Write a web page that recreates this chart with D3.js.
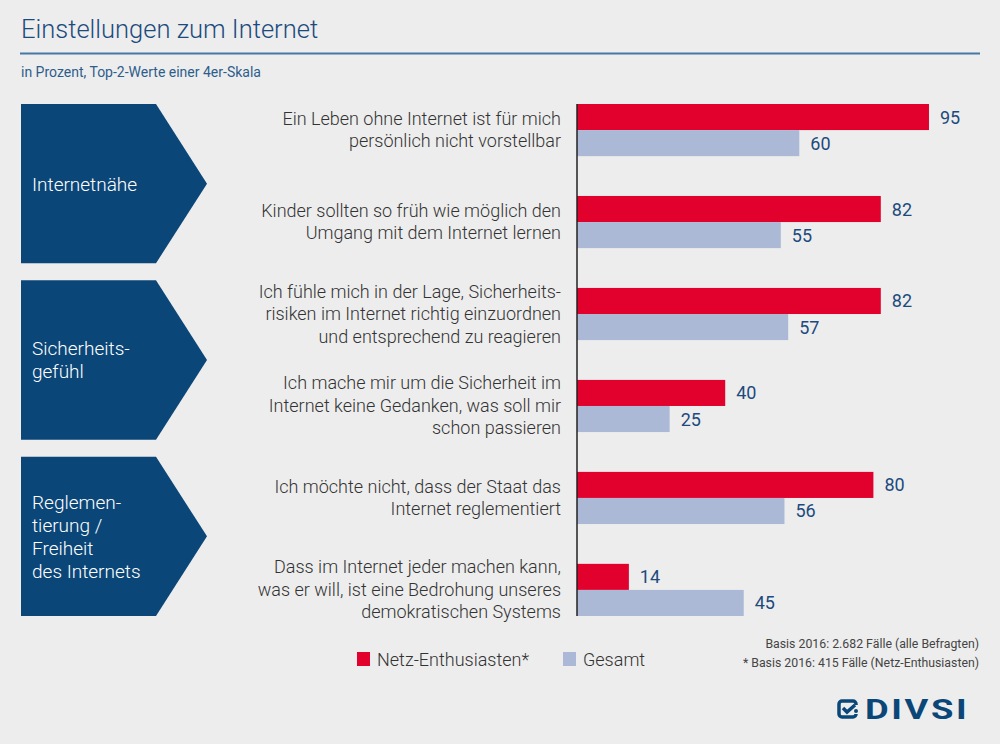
<!DOCTYPE html>
<html lang="de">
    <head>
        <meta charset="utf-8" />
        <title>Einstellungen zum Internet</title>
        <script src="https://cdn.jsdelivr.net/npm/d3@7"></script>
        <style>
            body {
                margin: 0;
                background-color: #ededed;
                font-family: Roboto, "Open Sans", sans-serif;
            }
        </style>
    </head>
    <body>
        <div id="chart"></div>

        <script>
            // data
            var groups = [
                ["Internetnähe"],
                ["Sicherheits-", "gefühl"],
                ["Reglemen-", "tierung /", "Freiheit", "des Internets"],
            ];
            var statements = [
                ["Ein Leben ohne Internet ist für mich", "persönlich nicht vorstellbar"],
                ["Kinder sollten so früh wie möglich den", "Umgang mit dem Internet lernen"],
                ["Ich fühle mich in der Lage, Sicherheits-", "risiken im Internet richtig einzuordnen", "und entsprechend zu reagieren"],
                ["Ich mache mir um die Sicherheit im", "Internet keine Gedanken, was soll mir", "schon passieren"],
                ["Ich möchte nicht, dass der Staat das", "Internet reglementiert"],
                ["Dass im Internet jeder machen kann,", "was er will, ist eine Bedrohung unseres", "demokratischen Systems"],
            ];
            var series = ["Netz-Enthusiasten*", "Gesamt"];
            var netz = [95, 82, 82, 40, 80, 14];
            var gesamt = [60, 55, 57, 25, 56, 45];
            var notes = [
                "Basis 2016: 2.682 Fälle (alle Befragten)",
                "* Basis 2016: 415 Fälle (Netz-Enthusiasten)",
            ];

            var width = 1000,
                height = 744;
            var navy = "#0b4678",
                red = "#e2002d",
                lightBlue = "#abb9d6";

            var svg = d3
                .select("#chart")
                .append("svg")
                .attr("width", width)
                .attr("height", height);

            // title
            svg.append("text")
                .attr("x", 21)
                .attr("y", 38)
                .attr("fill", "#1b4b7e")
                .attr("font-size", 25.5)
                .attr("font-weight", 300)
                .text("Einstellungen zum Internet");
            svg.append("line")
                .attr("x1", 20)
                .attr("x2", 980)
                .attr("y1", 53.5)
                .attr("y2", 53.5)
                .attr("stroke", "#4677a6")
                .attr("stroke-width", 2);
            svg.append("text")
                .attr("x", 21)
                .attr("y", 77)
                .attr("fill", "#2e5d8c")
                .attr("font-size", 14)
                .text("in Prozent, Top-2-Werte einer 4er-Skala");

            var rows = netz.map(function (d, i) {
                return { i: i, lines: statements[i], values: [d, gesamt[i]] };
            });

            var x = d3.scaleLinear().domain([0, 100]).range([577, 947.5]);
            var y = d3
                .scaleBand()
                .domain(d3.range(rows.length))
                .range([104, 616])
                .paddingInner(0.433);
            var ySub = d3
                .scaleBand()
                .domain([0, 1])
                .range([0, y.bandwidth()]);
            var yGroup = d3
                .scaleBand()
                .domain(d3.range(groups.length))
                .range([104, 616])
                .paddingInner(0.097);
            var color = d3.scaleOrdinal().domain([0, 1]).range([red, lightBlue]);

            // chevrons
            var chev = svg
                .selectAll(".chev")
                .data(groups)
                .enter()
                .append("g")
                .attr("class", "chev")
                .attr("transform", (d, i) => "translate(21," + yGroup(i) + ")");

            chev.append("path").attr("fill", navy).attr("d", function () {
                var h = yGroup.bandwidth();
                return "M0,0H135L186," + h / 2 + "L135," + h + "H0Z";
            });

            chev.append("text")
                .attr("fill", "#fff")
                .attr("font-size", 19)
                .attr("font-weight", 300)
                .selectAll("tspan")
                .data((d) => d)
                .enter()
                .append("tspan")
                .attr("x", 11)
                .attr("y", function (d, j, nodes) {
                    var n = nodes.length;
                    return yGroup.bandwidth() / 2 + (j - (n - 1) / 2) * 23 + 7;
                })
                .text((d) => d);

            // statement labels
            var row = svg
                .selectAll(".row")
                .data(rows)
                .enter()
                .append("g")
                .attr("class", "row")
                .attr("transform", (d) => "translate(0," + y(d.i) + ")");

            row.append("text")
                .attr("fill", "#333")
                .attr("font-size", 18)
                .attr("font-weight", 300)
                .attr("text-anchor", "end")
                .selectAll("tspan")
                .data((d) => d.lines)
                .enter()
                .append("tspan")
                .attr("x", 561)
                .attr("y", function (d, j, nodes) {
                    var n = nodes.length;
                    return y.bandwidth() / 2 + (j - (n - 1) / 2) * 22.5 + 6;
                })
                .text((d) => d);

            // bars
            var bar = row
                .selectAll(".bar")
                .data((d) => d.values)
                .enter()
                .append("g")
                .attr("class", "bar");

            bar.append("rect")
                .attr("x", x(0))
                .attr("y", (d, j) => ySub(j))
                .attr("width", (d) => x(d) - x(0))
                .attr("height", ySub.bandwidth())
                .attr("fill", (d, j) => color(j));

            bar.append("text")
                .attr("x", (d) => x(d) + 11)
                .attr("y", (d, j) => ySub(j) + ySub.bandwidth() / 2 + 6.5)
                .attr("fill", "#1c4a7d")
                .attr("font-size", 18)
                .text((d) => d);

            // axis line
            svg.append("line")
                .attr("x1", x(0))
                .attr("x2", x(0))
                .attr("y1", y.range()[0])
                .attr("y2", y.range()[1])
                .attr("stroke", "#222")
                .attr("stroke-width", 1.5);

            // legend
            var legendX = [357, 563];
            var legend = svg
                .selectAll(".legend")
                .data(series)
                .enter()
                .append("g")
                .attr("class", "legend")
                .attr("transform", (d, i) => "translate(" + legendX[i] + ",652)");
            legend.append("rect")
                .attr("width", 13)
                .attr("height", 14)
                .attr("fill", (d, i) => color(i));
            legend.append("text")
                .attr("x", 20)
                .attr("y", 13.5)
                .attr("fill", "#333")
                .attr("font-size", 18)
                .attr("font-weight", 300)
                .text((d) => d);

            // notes
            svg.selectAll(".note")
                .data(notes)
                .enter()
                .append("text")
                .attr("class", "note")
                .attr("x", 979)
                .attr("y", (d, i) => 648 + i * 19)
                .attr("text-anchor", "end")
                .attr("fill", "#444")
                .attr("font-size", 12.3)
                .text((d) => d);

            // logo
            var logo = svg.append("g").attr("transform", "translate(837,699)");
            logo.append("path")
                .attr("fill", "none")
                .attr("stroke", navy)
                .attr("stroke-width", 3.5)
                .attr("d", "M19,6V5a3,3 0 0 0 -3,-3H5a3,3 0 0 0 -3,3V15a3,3 0 0 0 3,3H16a3,3 0 0 0 3,-3");
            logo.append("path")
                .attr("fill", "none")
                .attr("stroke", navy)
                .attr("stroke-width", 3.5)
                .attr("d", "M6,9L10,13L18,6");
            logo.append("circle")
                .attr("cx", 19)
                .attr("cy", 12)
                .attr("r", 2)
                .attr("fill", navy);
            logo.append("text")
                .attr("transform", "translate(28,20) scale(1.3,1)")
                .attr("fill", navy)
                .attr("font-size", 28)
                .attr("font-weight", "bold")
                .attr("letter-spacing", 2)
                .text("DIVSI");
        </script>
    </body>
</html>
